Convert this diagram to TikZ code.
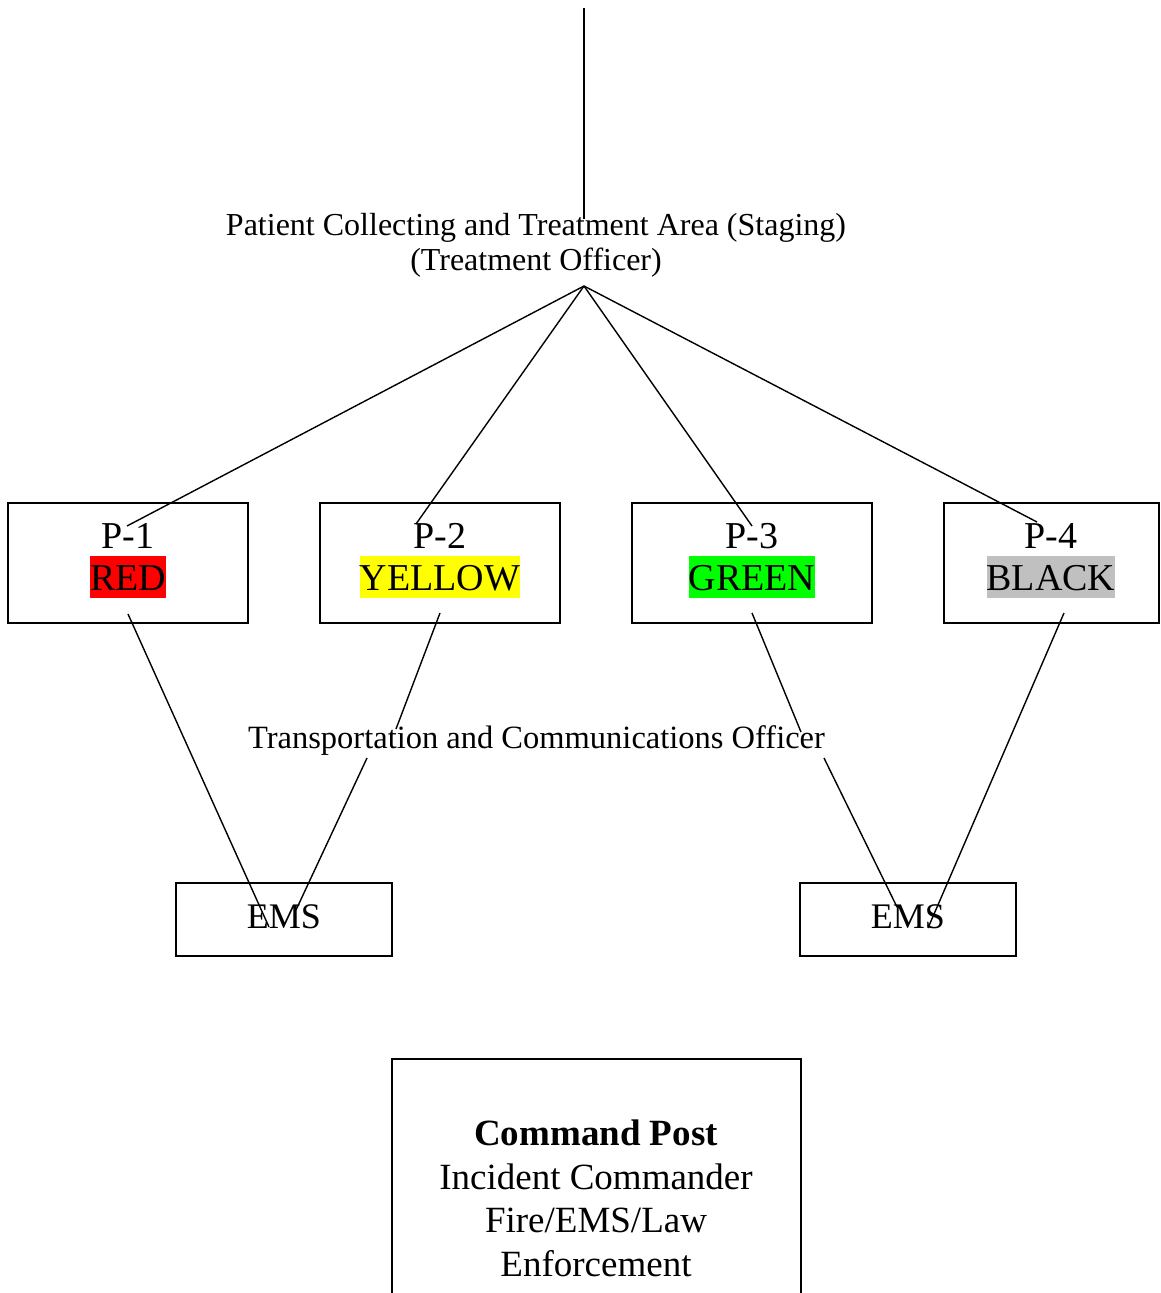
\documentclass[tikz,border=0pt]{standalone}
\usepackage{fontspec}
\setmainfont{Liberation Serif}
\definecolor{hlred}{RGB}{255,0,0}
\definecolor{hlyellow}{RGB}{255,255,0}
\definecolor{hlgreen}{RGB}{0,255,0}
\definecolor{hlgray}{RGB}{192,192,192}
\begin{document}
\begin{tikzpicture}[x=1pt,y=-1pt,
  conn/.style={line width=1.4pt},
  box/.style={draw,line width=1.6pt},
  big/.style={font=\fontsize{38}{44}\selectfont},
  mid/.style={font=\fontsize{32}{36}\selectfont},
  hl/.style={big,inner sep=0pt,text height=33.9pt,text depth=8.2pt,anchor=base},
  lbl/.style={inner sep=0pt,anchor=base}]
\clip (0,0) rectangle (1160,1293);
\fill[white] (0,0) rectangle (1160,1293);

% boxes
\draw[box] (8,503) rectangle (248,623);
\draw[box] (320,503) rectangle (560,623);
\draw[box] (632,503) rectangle (872,623);
\draw[box] (944,503) rectangle (1159,623);
\draw[box] (176,883) rectangle (392,956);
\draw[box] (800,883) rectangle (1016,956);
\draw[box] (392,1300) -- (392,1059) -- (801,1059) -- (801,1300);

% texts
\node[lbl,mid] (staging) at (536,235) {Patient Collecting and Treatment Area (Staging)};
\node[lbl,mid] (officer) at (536,270) {(Treatment Officer)};
\node[lbl,font=\fontsize{32.5}{36}\selectfont] (transp) at (536.5,748) {Transportation and Communications Officer};

\node[lbl,big] (p1) at (128,548) {P-1};
\node[hl,fill=hlred] (red) at (128,590) {RED};
\node[lbl,big] (p2) at (440,548) {P-2};
\node[hl,fill=hlyellow] (yellow) at (440,590) {YELLOW};
\node[lbl,big] (p3) at (752,548) {P-3};
\node[hl,fill=hlgreen] (green) at (752,590) {GREEN};
\node[lbl,big] (p4) at (1051,548) {P-4};
\node[hl,fill=hlgray] (black) at (1051,590) {BLACK};

\node[lbl,font=\fontsize{36}{42}\selectfont] (ems1) at (284,928) {EMS};
\node[lbl,font=\fontsize{36}{42}\selectfont] (ems2) at (908,928) {EMS};

\node[lbl,font=\fontsize{37}{44}\selectfont\bfseries] (cp) at (596,1145) {Command Post};
\node[lbl,font=\fontsize{37}{44}\selectfont] (ic) at (596,1189) {Incident Commander};
\node[lbl,font=\fontsize{37}{44}\selectfont] (fel) at (596,1232) {Fire/EMS/Law};
\node[lbl,font=\fontsize{37}{44}\selectfont] (enf) at (596,1276) {Enforcement};

% connector points
\coordinate (top) at (584,8);
\coordinate (topend) at (584,219);
\coordinate (apex) at (584,286);
\coordinate (a1) at (127,526);
\coordinate (a2) at (416,524);
\coordinate (a3) at (752,526);
\coordinate (a4) at (1037,522);
\coordinate (b1) at (128,614);
\coordinate (b2) at (440,613);
\coordinate (b3) at (752,613);
\coordinate (b4) at (1064,613);
\coordinate (t2a) at (396,729);
\coordinate (t2b) at (367,758);
\coordinate (t3a) at (801,732);
\coordinate (t3b) at (824,758);
\coordinate (e1a) at (269,927);
\coordinate (e1b) at (296,910);
\coordinate (e2a) at (897,907);
\coordinate (e2b) at (928,928);

\draw[conn] (top) -- (topend);
\draw[conn] (apex) -- (a1);
\draw[conn] (apex) -- (a2);
\draw[conn] (apex) -- (a3);
\draw[conn] (apex) -- (a4);
\draw[conn] (b1) -- (e1a);
\draw[conn] (b2) -- (t2a);
\draw[conn] (t2b) -- (e1b);
\draw[conn] (b3) -- (t3a);
\draw[conn] (t3b) -- (e2a);
\draw[conn] (b4) -- (e2b);
\end{tikzpicture}
\end{document}
